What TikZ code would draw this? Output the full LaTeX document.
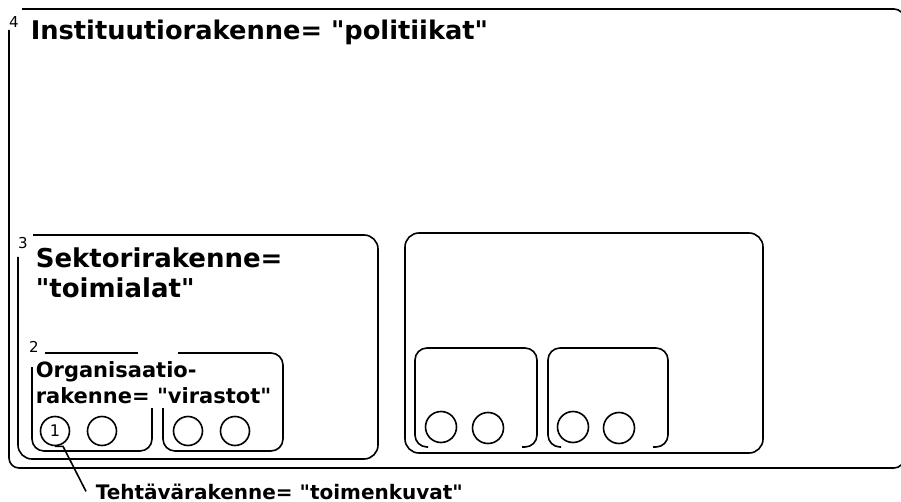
\documentclass[tikz,border=0pt]{standalone}
\usepackage{fontspec}
\setmainfont{DejaVu Sans}[Ligatures=TeXReset]
\begin{document}
\begin{tikzpicture}[x=1pt, y=-1pt, line width=1.6pt,
    kehys/.style={rounded corners=14pt},
    lohko/.style={rounded corners=12pt},
    pallo/.style={circle, draw, minimum size=31pt, inner sep=0pt},
    numero/.style={font=\fontsize{15}{15}\selectfont, inner sep=0pt},
    otsikko/.style={anchor=base west, inner sep=0pt, align=left}]
  \useasboundingbox (0,0) rectangle (901,502);
  % 4
  \draw[rounded corners=10pt] (22,9) -- (904,9) -- (904,468) -- (9,468) -- (9,30);
  \node[numero] (n4) at (14,22) {4};
  \node[otsikko, font=\fontsize{25.7}{28}\selectfont\bfseries] (instituutio) at (30,40) {Instituutiorakenne= "politiikat"};
  % 3
  \draw[kehys] (33,235) -- (378,235) -- (378,459) -- (18,459) -- (18,257);
  \node[numero] (n3) at (23,243) {3};
  \node[otsikko, font=\fontsize{26}{30}\selectfont\bfseries] (sektori) at (35,298) {Sektorirakenne=\\"toimialat"};
  % 2
  \draw (45,353) -- (138,353);
  \draw[lohko] (32,367) -- (32,451) -- (152,451) -- (152,408);
  \draw[lohko] (163,408) -- (163,451) -- (283,451) -- (283,353) -- (178,353);
  \node[numero] (n2) at (34,347) {2};
  \node[otsikko, font=\fontsize{21}{26}\selectfont\bfseries] (organisaatio) at (35,403) {Organisaatio-\\rakenne= "virastot"};
  % 1
  \node[pallo, minimum size=29pt, font=\fontsize{16}{16}\selectfont] (t1) at (55,431) {1};
  \node[pallo, minimum size=29pt] (t2) at (102,431) {};
  \node[pallo, minimum size=29pt] (t3) at (188,431) {};
  \node[pallo, minimum size=29pt] (t4) at (235,431) {};
  % oikea puoli
  \draw[kehys] (405,233) rectangle (763,453);
  \draw[lohko] (428,447) -- (415,447) -- (415,348) -- (537,348) -- (537,447) -- (522,447);
  \draw[lohko] (561,447) -- (548,447) -- (548,348) -- (668,348) -- (668,447) -- (653,447);
  \node[pallo] (t5) at (441,427) {};
  \node[pallo] (t6) at (488,428) {};
  \node[pallo] (t7) at (573,427) {};
  \node[pallo] (t8) at (619,428) {};
  % tehtava
  \node[otsikko, font=\fontsize{20}{24}\selectfont\bfseries] (tehtava) at (95,499) {Tehtävärakenne= "toimenkuvat"};
  \draw (t1.south) -- ++(8,0) -- ([xshift=-9pt]tehtava.west);
\end{tikzpicture}
\end{document}
